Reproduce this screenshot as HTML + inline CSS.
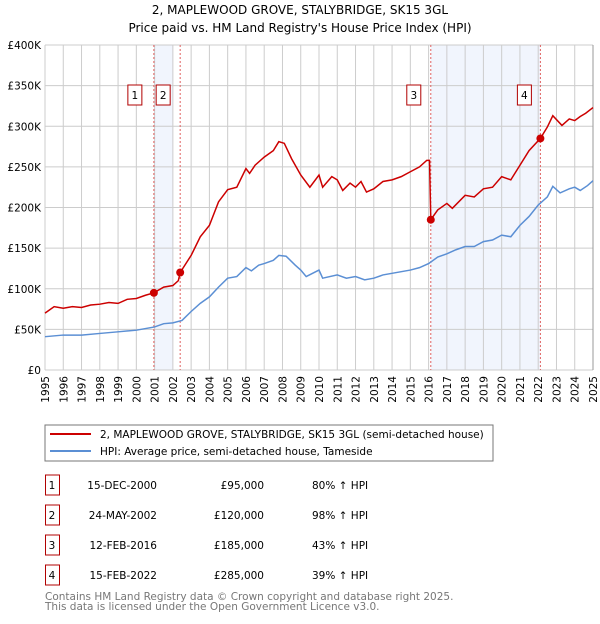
<!DOCTYPE html>
<html><head><meta charset="utf-8"><style>
body{margin:0;background:#fff;font-family:"DejaVu Sans","Liberation Sans",sans-serif}
svg text{font-family:"DejaVu Sans","Liberation Sans",sans-serif}
</style></head><body>
<svg id="c" width="600" height="620" xmlns="http://www.w3.org/2000/svg">
<text x="300" y="14" text-anchor="middle" font-size="12">2, MAPLEWOOD GROVE, STALYBRIDGE, SK15 3GL</text>
<text x="300" y="32" text-anchor="middle" font-size="12">Price paid vs. HM Land Registry's House Price Index (HPI)</text>
<g id="plot"></g>
<rect x="45" y="425" width="448" height="36" fill="#fff" stroke="#777"/>
<line x1="50" y1="434" x2="91" y2="434" stroke="#cc0000" stroke-width="2"/>
<text x="100" y="438" font-size="10.5">2, MAPLEWOOD GROVE, STALYBRIDGE, SK15 3GL (semi-detached house)</text>
<line x1="50" y1="451" x2="91" y2="451" stroke="#5b8fd4" stroke-width="2"/>
<text x="100" y="455" font-size="10.5">HPI: Average price, semi-detached house, Tameside</text>
<g id="tbl"></g>
<text x="45" y="600" font-size="10.5" fill="#777">Contains HM Land Registry data © Crown copyright and database right 2025.</text>
<text x="45" y="610" font-size="10.5" fill="#777">This data is licensed under the Open Government Licence v3.0.</text>
</svg>
<script>
const yearTicks=[1995,1996,1997,1998,1999,2000,2001,2002,2003,2004,2005,2006,2007,2008,2009,2010,2011,2012,2013,2014,2015,2016,2017,2018,2019,2020,2021,2022,2023,2024,2025];
const valueTicks=[0,50,100,150,200,250,300,350,400];
const valueLabels=["£0","£50K","£100K","£150K","£200K","£250K","£300K","£350K","£400K"];
const redT=[1995,1995.5,1996,1996.5,1997,1997.5,1998,1998.5,1999,1999.5,2000,2000.5,2000.96,2001.5,2002,2002.3,2002.4,2003,2003.5,2004,2004.5,2005,2005.5,2006,2006.2,2006.5,2007,2007.5,2007.8,2008.1,2008.5,2009,2009.5,2010,2010.2,2010.7,2011,2011.3,2011.7,2012,2012.3,2012.6,2013,2013.5,2014,2014.5,2015,2015.5,2015.9,2016.05,2016.12,2016.5,2017,2017.3,2018,2018.5,2019,2019.5,2020,2020.5,2021,2021.5,2022.12,2022.5,2022.8,2023.3,2023.7,2024,2024.3,2024.6,2025];
const redV=[70,78,76,78,77,80,81,83,82,87,88,92,95,102,104,110,120,141,164,178,207,222,225,248,242,252,262,270,281,279,260,240,225,240,225,238,234,221,230,225,232,219,223,232,234,238,244,250,258,258,185,197,205,199,215,213,223,225,238,234,252,270,285,299,313,301,309,307,312,316,323];
const hpiT=[1995,1996,1997,1998,1999,2000,2000.5,2001,2001.5,2002,2002.5,2003,2003.5,2004,2004.5,2005,2005.5,2006,2006.3,2006.7,2007,2007.5,2007.8,2008.2,2008.7,2009,2009.3,2010,2010.2,2011,2011.5,2012,2012.5,2013,2013.5,2014,2014.5,2015,2015.5,2016,2016.5,2017,2017.5,2018,2018.5,2019,2019.5,2020,2020.5,2021,2021.5,2022,2022.5,2022.8,2023.2,2023.7,2024,2024.3,2024.7,2025];
const hpiV=[41,43,43,45,47,49,51,53,57,58,61,72,82,90,102,113,115,126,122,129,131,135,141,140,129,123,115,123,113,117,113,115,111,113,117,119,121,123,126,131,139,143,148,152,152,158,160,166,164,178,189,203,213,226,218,223,225,221,227,233];
const saleT=[2000.96,2002.4,2016.12,2022.12];
const saleV=[95,120,185,285];
const saleLabels=["1","2","3","4"];
const saleDates=["15-DEC-2000","24-MAY-2002","12-FEB-2016","15-FEB-2022"];
const salePrices=["£95,000","£120,000","£185,000","£285,000"];
const saleHpi=["80% ↑ HPI","98% ↑ HPI","43% ↑ HPI","39% ↑ HPI"];
const shadeStart=[2000.96,2016.12];
const shadeEnd=[2002.0,2022.12];

const NS="http://www.w3.org/2000/svg";
const X0=45,X1=593,Y0=370,Y1=45;
const xs=t=>X0+(t-1995)/(2025-1995)*(X1-X0);
const ys=v=>Y0-v/400*(Y0-Y1);
const plot=document.getElementById('plot');
function mk(tag,attrs,parent){const e=document.createElementNS(NS,tag);for(const k in attrs)e.setAttribute(k,attrs[k]);(parent||plot).appendChild(e);return e;}
mk('rect',{x:X0,y:Y1,width:X1-X0,height:Y0-Y1,fill:'#fff'});
for(let i=0;i<shadeStart.length;i++){
  const r=mk('rect',{x:xs(shadeStart[i]),y:Y1,width:xs(shadeEnd[i])-xs(shadeStart[i]),height:Y0-Y1,fill:'#eef3fc',opacity:0.8});
  
  
}
yearTicks.forEach(t=>{
  const l=mk('line',{x1:xs(t),x2:xs(t),y1:Y1,y2:Y0,stroke:'#ccc','stroke-width':1});
  
  
  const tx=mk('text',{transform:`translate(${xs(t)+4},${Y0+6}) rotate(-90)`,'text-anchor':'end','font-size':10.5});
  tx.textContent=t;
  
  
});
valueTicks.forEach((v,i)=>{
  const l=mk('line',{x1:X0,x2:X1,y1:ys(v),y2:ys(v),stroke:'#ccc','stroke-width':1});
  
  
  const tx=mk('text',{x:X0-4,y:ys(v)+4,'text-anchor':'end','font-size':10.5});
  tx.textContent=valueLabels[i];
  
  
});
mk('line',{x1:X1,x2:X1,y1:Y1,y2:Y0,stroke:'#999'});
const boxOff=[12,10,10,9];
saleT.forEach((t,i)=>{
  const l=mk('line',{x1:xs(t),x2:xs(t),y1:Y1,y2:Y0,stroke:'#e06060','stroke-dasharray':'2,2','stroke-width':1});
  
  
  const bx=xs(t)-boxOff[i]-14;
  const r=mk('rect',{x:bx,y:85,width:14,height:20,fill:'#fff',stroke:'#b00000'});
  
  
  const tx=mk('text',{x:bx+7,y:99,'text-anchor':'middle','font-size':10.5});
  tx.textContent=saleLabels[i];
  
  
});
const hp=mk('polyline',{points:hpiT.map((t,i)=>xs(t)+','+ys(hpiV[i])).join(' '),fill:'none',stroke:'#5b8fd4','stroke-width':1.5});


const rp=mk('polyline',{points:redT.map((t,i)=>xs(t)+','+ys(redV[i])).join(' '),fill:'none',stroke:'#cc0000','stroke-width':1.5});


saleT.forEach((t,i)=>{
  const c=mk('circle',{cx:xs(t),cy:ys(saleV[i]),r:4,fill:'#cc0000'});
  
  
});
const tbl=document.getElementById('tbl');
saleLabels.forEach((s,i)=>{
  const y=475+i*30;
  const r=mk('rect',{x:45.5,y:y,width:14,height:20,fill:'#fff',stroke:'#b00000'},tbl);
  
  
  const cols=[[52,s,'middle'],[157,saleDates[i],'end'],[264,salePrices[i],'end'],[312,saleHpi[i],'start']];
  const names=['table-sale-number','table-sale-date','table-sale-price','table-sale-hpi'];
  cols.forEach((c,j)=>{
    const tx=mk('text',{x:c[0],y:y+14,'text-anchor':c[2],'font-size':10.5},tbl);
    tx.textContent=c[1];
    
    
  });
});
</script>
</body></html>
